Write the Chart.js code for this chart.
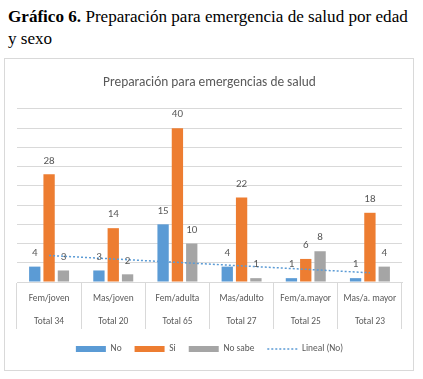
<!DOCTYPE html>
<html>
<head>
<meta charset="utf-8">
<script src="https://cdn.jsdelivr.net/npm/chart.js@4/dist/chart.umd.min.js"></script>
<style>
  html, body { margin: 0; padding: 0; background: #fff; }
  body { width: 423px; height: 379px; position: relative; overflow: hidden; }
  #heading {
    position: absolute; left: 8px; top: 6px; width: 402px;
    font-family: "Liberation Serif", "Times New Roman", serif;
    font-size: 17.1px; line-height: 22px; color: #000;
  }
  #box {
    position: absolute; left: 4px; top: 58px; width: 408px; height: 311px;
    border: 1px solid #d9d9d9;
  }
  canvas { display: block; }
</style>
</head>
<body>
<div id="heading"><b>Gráfico 6.</b> Preparación para emergencia de salud por edad y sexo</div>
<div id="box"><canvas id="c" width="408" height="311"></canvas></div>
<script>
const groups = ["Fem/joven", "Mas/joven", "Fem/adulta", "Mas/adulto", "Fem/a.mayor", "Mas/a. mayor"];
const totals = ["Total 34", "Total 20", "Total 65", "Total 27", "Total 25", "Total 23"];
const seriesNames = ["No", "Si", "No sabe", "Lineal (No)"];
const noValues = [4, 3, 15, 4, 1, 1];
const siValues = [28, 14, 40, 22, 6, 18];
const noSabeValues = [3, 2, 10, 1, 8, 4];
const trendNo = [6.9, null, null, null, null, 2.4];
const colors = ["#5B9BD5", "#ED7D31", "#A5A5A5", "#5B9BD5"];

const FONT = "Carlito, 'Liberation Sans', sans-serif";
const TXT = "#595959";
const GRID = "#d9d9d9";

const labels = groups.map((g, i) => [g, totals[i]]);

const valueLabels = {
  id: "valueLabels",
  afterDatasetsDraw(chart) {
    const ctx = chart.ctx;
    ctx.save();
    ctx.font = "11px " + FONT;
    ctx.fillStyle = TXT;
    ctx.textAlign = "center";
    ctx.textBaseline = "middle";
    chart.data.datasets.forEach((ds, di) => {
      if (ds.type === "line") return;
      const meta = chart.getDatasetMeta(di);
      meta.data.forEach((el, i) => {
        ctx.fillText(String(ds.data[i]), el.x, el.y - 13.5);
      });
    });
    ctx.restore();
  }
};

const legendLine = {
  id: "legendLine",
  afterDraw(chart) {
    const lg = chart.legend;
    if (!lg || !lg.legendHitBoxes) return;
    const hb = lg.legendHitBoxes[3];
    if (!hb) return;
    const ctx = chart.ctx;
    ctx.save();
    ctx.strokeStyle = colors[3];
    ctx.lineWidth = 1.5;
    ctx.setLineDash([2, 2]);
    const y = hb.top + hb.height / 2;
    ctx.beginPath();
    ctx.moveTo(hb.left, y);
    ctx.lineTo(hb.left + 30, y);
    ctx.stroke();
    ctx.restore();
  }
};

new Chart(document.getElementById("c"), {
  type: "bar",
  data: {
    labels: labels,
    datasets: [
      { label: seriesNames[0], data: noValues, backgroundColor: colors[0], borderWidth: 0 },
      { label: seriesNames[1], data: siValues, backgroundColor: colors[1], borderWidth: 0 },
      { label: seriesNames[2], data: noSabeValues, backgroundColor: colors[2], borderWidth: 0 },
      { type: "line", label: seriesNames[3], data: trendNo, borderColor: colors[3], backgroundColor: "rgba(0,0,0,0)",
        borderWidth: 1.5, borderDash: [2, 2], pointRadius: 0, spanGaps: true, order: -1, fill: false }
    ]
  },
  options: {
    responsive: false,
    animation: false,
    categoryPercentage: 0.67,
    barPercentage: 0.79,
    layout: { padding: { left: 12, right: 11, top: 0, bottom: 6.3 } },
    plugins: {
      title: {
        display: true,
        text: "Preparación para emergencias de salud",
        color: TXT,
        font: { family: FONT, size: 13.4, weight: "normal", lineHeight: 1.2 },
        padding: { top: 15.9, bottom: 18 }
      },
      legend: {
        position: "bottom",
        labels: {
          boxWidth: 30,
          boxHeight: 6,
          padding: 13,
          color: TXT,
          font: { family: FONT, size: 9.4 },
          generateLabels(chart) {
            return chart.data.datasets.map((ds, i) => ({
              text: ds.label,
              datasetIndex: i,
              fillStyle: ds.type === "line" ? "rgba(0,0,0,0)" : ds.backgroundColor,
              strokeStyle: "rgba(0,0,0,0)",
              lineWidth: 0,
              hidden: false,
              fontColor: TXT
            }));
          }
        }
      },
      tooltip: { enabled: false }
    },
    scales: {
      x: {
        grid: { display: true, drawOnChartArea: false, drawTicks: true, tickLength: 47, color: GRID, offset: true },
        border: { display: true, color: GRID },
        ticks: { color: TXT, font: { family: FONT, size: 9.4, lineHeight: 2.447 }, padding: -41.5, maxRotation: 0, autoSkip: false },
        afterFit(scale) { scale.height = 49.3; }
      },
      y: {
        min: 0, max: 45,
        ticks: { display: false, stepSize: 5 },
        grid: { color: GRID, drawTicks: false },
        border: { display: false }
      }
    }
  },
  plugins: [valueLabels, legendLine]
});
</script>
</body>
</html>
